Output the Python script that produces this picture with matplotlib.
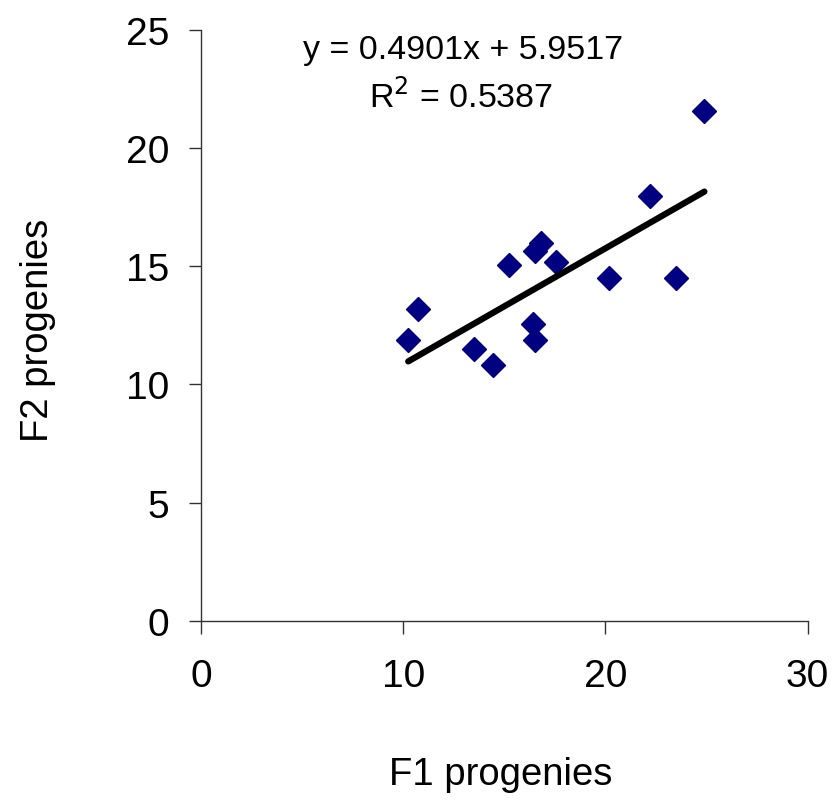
import matplotlib
matplotlib.use("Agg")
import matplotlib.pyplot as plt
import numpy as np

plt.rcParams['font.family'] = ['Liberation Sans', 'DejaVu Sans']

f1 = [10.25, 10.74, 13.5, 14.46, 15.25, 16.44, 16.5, 16.53, 16.83, 17.57, 20.2, 22.2, 23.5, 24.9]
f2 = [11.88, 13.19, 11.5, 10.82, 15.05, 12.56, 15.64, 11.88, 15.98, 15.18, 14.5, 17.97, 14.5, 21.56]
slope = 0.4901
intercept = 5.9517
r2 = 0.5387
xticks = [0, 10, 20, 30]
yticks = [0, 5, 10, 15, 20, 25]

fig = plt.figure(figsize=(8.39, 8.03), dpi=100)
ax = fig.add_axes([201/839, 1-622/803, (807.5-201)/839, (622-30.7)/803])

ax.plot(f1, f2, linestyle='none', marker='D', markersize=12, color='#000080')
xl = np.array([min(f1), max(f1)])
ax.plot(xl, slope*xl + intercept, color='black', linewidth=4.5, solid_capstyle='round')

ax.set_xlim(0, 30)
ax.set_ylim(0, 25)
ax.set_xticks(xticks)
ax.set_yticks(yticks)
for s in ['top', 'right']:
    ax.spines[s].set_visible(False)
for s in ['left', 'bottom']:
    ax.spines[s].set_color('#333333')
    ax.spines[s].set_linewidth(1.0)
ax.tick_params(axis='both', direction='out', length=9, width=1.0, color='#333333', labelsize=28)
ax.tick_params(axis='x', pad=18)
ax.tick_params(axis='y', pad=14)

fig.text(38/839, 1-330/803, 'F2 progenies', rotation=90, ha='center', va='center', fontsize=27.5)
fig.text(501/839, 1-775/803, 'F1 progenies', ha='center', va='center', fontsize=27.5)

ax.text(463/839, 1-50/803, f'y = {slope}x + {intercept}', transform=fig.transFigure,
        ha='center', va='center', fontsize=24.5)
ax.text(461/839, 1-97/803, f'R$^2$ = {r2}', transform=fig.transFigure,
        ha='center', va='center', fontsize=24.5)

fig.savefig('out.png', dpi=100)
